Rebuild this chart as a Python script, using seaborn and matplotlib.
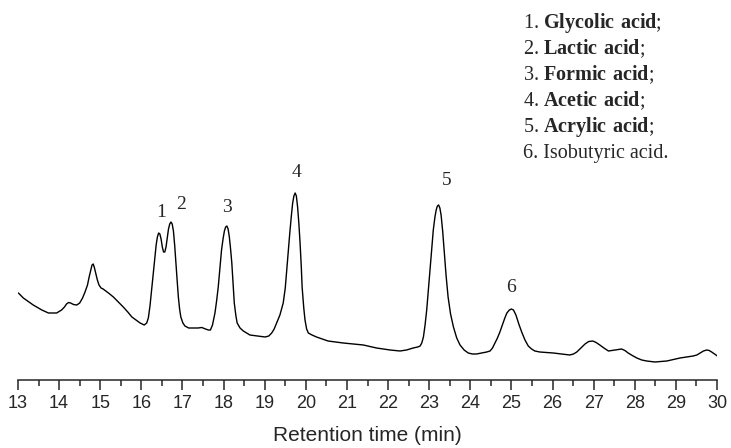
import numpy as np
import pandas as pd
import seaborn as sns
import matplotlib
matplotlib.use("Agg")
import matplotlib.pyplot as plt
from matplotlib import font_manager
from matplotlib.ticker import MultipleLocator

# Chromatogram trace: retention time (min) and detector signal (a.u.)
retention_time = [
    13.01, 13.13, 13.37, 13.58, 13.74, 13.94, 14.06, 14.13, 14.18, 14.23,
    14.28, 14.35, 14.43, 14.50, 14.57, 14.63, 14.69, 14.73, 14.77, 14.80,
    14.83, 14.86, 14.89, 14.93, 14.97, 15.02, 15.07, 15.20, 15.32, 15.44,
    15.56, 15.67, 15.77, 15.87, 15.97, 16.07, 16.13, 16.17, 16.21, 16.25,
    16.29, 16.33, 16.36, 16.39, 16.42, 16.45, 16.48, 16.51, 16.54, 16.57,
    16.60, 16.63, 16.66, 16.69, 16.72, 16.75, 16.78, 16.81, 16.84, 16.87,
    16.90, 16.93, 16.96, 17.01, 17.06, 17.15, 17.26, 17.38, 17.47, 17.56,
    17.63, 17.68, 17.73, 17.79, 17.83, 17.87, 17.91, 17.95, 17.99, 18.02,
    18.05, 18.08, 18.11, 18.14, 18.17, 18.20, 18.23, 18.26, 18.30, 18.33,
    18.40, 18.48, 18.64, 18.82, 19.01, 19.10, 19.17, 19.23, 19.29, 19.37,
    19.45, 19.50, 19.53, 19.57, 19.61, 19.65, 19.68, 19.71, 19.74, 19.77,
    19.80, 19.83, 19.86, 19.89, 19.91, 19.95, 19.98, 20.02, 20.06, 20.15,
    20.26, 20.40, 20.54, 20.72, 20.91, 21.15, 21.40, 21.56, 21.72, 21.88,
    22.05, 22.29, 22.45, 22.61, 22.72, 22.78, 22.82, 22.86, 22.90, 22.94,
    22.98, 23.02, 23.06, 23.10, 23.14, 23.17, 23.20, 23.23, 23.26, 23.29,
    23.33, 23.37, 23.41, 23.46, 23.52, 23.59, 23.67, 23.75, 23.85, 23.95,
    24.05, 24.15, 24.28, 24.40, 24.48, 24.54, 24.60, 24.66, 24.72, 24.78,
    24.84, 24.89, 24.95, 25.00, 25.05, 25.11, 25.18, 25.25, 25.33, 25.41,
    25.49, 25.57, 25.69, 25.85, 26.02, 26.22, 26.42, 26.51, 26.59, 26.69,
    26.79, 26.88, 26.98, 27.06, 27.15, 27.25, 27.36, 27.44, 27.52, 27.60,
    27.68, 27.76, 27.84, 27.94, 28.05, 28.17, 28.29, 28.49, 28.63, 28.78,
    28.94, 29.10, 29.26, 29.42, 29.51, 29.59, 29.67, 29.75, 29.81, 29.87,
    29.94, 30.01,
]
signal = [
    87, 82, 75, 70, 67, 67, 70, 73, 76, 77.5,
    77, 75.5, 75, 77, 82, 88, 95, 103, 110, 115,
    116, 112, 107, 100, 95, 92, 91, 87, 83, 78,
    73, 68, 63, 60, 57, 55, 57, 62, 74, 90,
    107, 123, 135, 143, 147, 146, 141, 133, 128, 128,
    133, 142, 151, 156, 158, 156, 149, 135, 117, 100,
    83, 71, 63, 57, 54, 52, 52, 52, 52.5, 51,
    50, 50, 55, 67, 79, 93, 112, 130, 142, 149,
    153, 154, 151, 143, 131, 117, 97, 77, 64, 57,
    52, 49, 45, 44, 43, 44, 47, 51, 57, 65,
    77, 92, 107, 127, 147, 165, 177, 184, 187, 184,
    173, 157, 137, 113, 93, 72, 60, 51, 47, 45,
    43, 41, 39, 38, 37, 36, 35, 33.5, 32, 31,
    30, 29, 30, 32, 33, 34, 37, 43, 55, 70,
    90, 110, 131, 150, 163, 170, 174, 175, 172, 165,
    148, 127, 105, 83, 66, 53, 42, 35, 30, 27,
    26, 26, 27, 28, 29, 32, 37, 42, 48, 55,
    62, 67, 70, 71, 70, 65, 56, 48, 40, 34,
    31, 29, 28, 27.5, 27, 26, 25, 26, 28, 32,
    36, 38.5, 39, 37.5, 35, 32, 29, 29.5, 30, 30.5,
    31, 29.5, 27, 24.5, 22, 20, 19, 18, 18.5, 19,
    20.5, 22, 23, 24, 25, 27, 29, 30, 29.5, 28,
    26, 24,
]

# Identified peaks
peak_numbers = ["1", "2", "3", "4", "5", "6"]
peak_rt = [16.42, 16.72, 18.08, 19.74, 23.23, 25.00]
compound_names = ["Glycolic acid", "Lactic acid", "Formic acid",
                  "Acetic acid", "Acrylic acid", "Isobutyric acid"]
compound_bold = [True, True, True, True, True, False]

xticks = list(range(13, 31))

df = pd.DataFrame({"rt": retention_time, "signal": signal})

sns.set_style("white")
plt.rcParams["mathtext.fontset"] = "custom"
plt.rcParams["mathtext.rm"] = "Liberation Serif"
plt.rcParams["mathtext.bf"] = "Liberation Serif:bold"


def has_font(name):
    try:
        font_manager.findfont(name, fallback_to_default=False)
        return True
    except Exception:
        return False


narrow = has_font("Liberation Sans Narrow")
tick_family = "Liberation Sans Narrow" if narrow else "Liberation Sans"
tick_size = 15 if narrow else 13

W, H = 731, 448
fig = plt.figure(figsize=(W / 100, H / 100), dpi=100)
ax = fig.add_axes([18 / W, (H - 380) / H, (717 - 18) / W, 380 / H])

sns.lineplot(data=df, x="rt", y="signal", ax=ax, color="black",
             linewidth=1.0, estimator=None, sort=False)
for line in ax.get_lines():
    line.set_solid_joinstyle("round")
    line.set_solid_capstyle("round")

ax.set_xlim(13, 30)
ax.set_ylim(0, 380)
for side in ("top", "right", "left"):
    ax.spines[side].set_visible(False)
ax.spines["bottom"].set_linewidth(1.1)
ax.set_yticks([])
ax.set_ylabel("")
ax.set_xticks(xticks)
ax.xaxis.set_minor_locator(MultipleLocator(0.5))
ax.tick_params(axis="x", which="major", direction="out", length=7,
               width=1.1, pad=4, bottom=True)
ax.tick_params(axis="x", which="minor", direction="out", length=4,
               width=1.1, bottom=True)
for lab in ax.get_xticklabels():
    lab.set_fontfamily(tick_family)
    lab.set_fontsize(tick_size)
ax.set_xlabel("Retention time (min)", fontsize=15,
              fontfamily="Liberation Sans", labelpad=10)

# Peak numbers above each apex
label_offsets = [(3, 21), (10, 18), (0, 19), (1, 21), (8, 25), (0, 22)]
for num, rt, (dx, dy) in zip(peak_numbers, peak_rt, label_offsets):
    h = np.interp(rt, retention_time, signal)
    ax.annotate(num, xy=(rt, h), xytext=(dx, dy), textcoords="offset pixels",
                ha="center", va="center", fontsize=14,
                fontfamily="Liberation Serif")

# Compound list
for i, (num, name, bold) in enumerate(zip(peak_numbers, compound_names,
                                          compound_bold)):
    if bold:
        text = num + ". $\\mathbf{" + name.replace(" ", "\\ ") + "}$;"
    else:
        text = num + ". " + name + "."
    y_px = 28 + 26 * i
    fig.text(523 / W, 1 - y_px / H, text, ha="left", va="baseline",
             fontsize=14.5, fontfamily="Liberation Serif")

fig.savefig("out.png", dpi=100)
